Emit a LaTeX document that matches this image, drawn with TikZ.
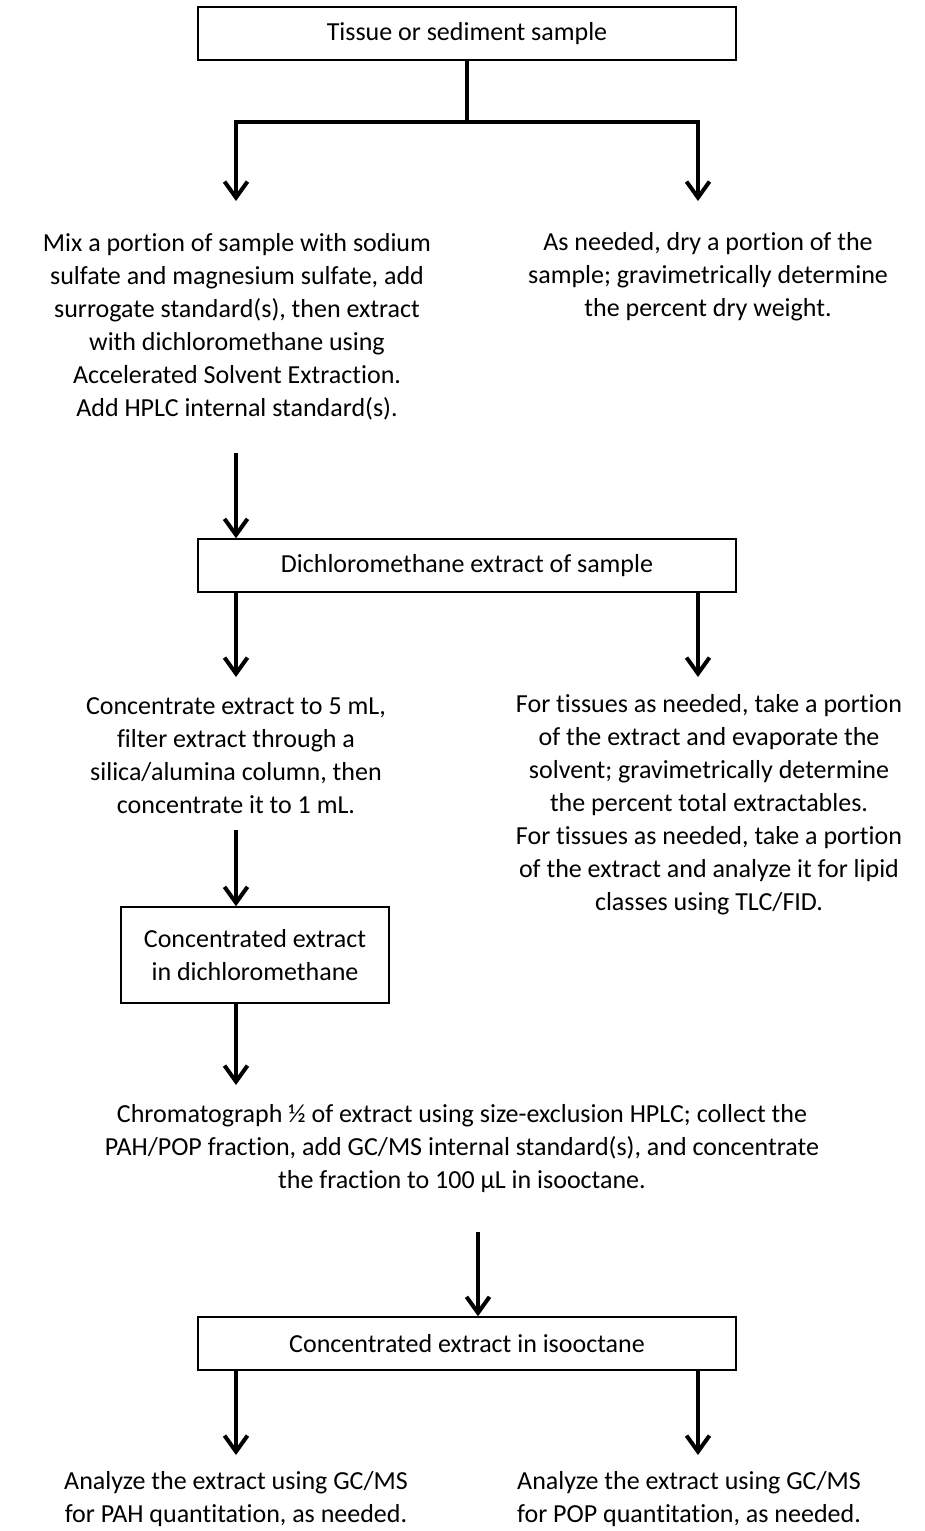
\documentclass[tikz,border=0pt]{standalone}
\usepackage{fontspec}
\setmainfont{Carlito}[Ligatures=NoCommon]
\usetikzlibrary{arrows.meta}
\tikzset{
  every node/.style={font=\fontsize{26}{33}\selectfont, inner sep=0pt},
  box/.style={draw, line width=1.5pt, minimum height=53pt},
  txt/.style={align=center},
  arr/.style={line width=4pt, line join=miter, -{Straight Barb[length=16pt,width=23pt]}},
  ln/.style={line width=4pt, line join=miter},
}
\begin{document}
\begin{tikzpicture}[x=1pt,y=-1pt]
\useasboundingbox (0,0) rectangle (925,1531);
\node[box, minimum width=538pt] (b1) at (467,33.5) {Tissue or sediment sample};
\node[txt] (t1) at (237,326.5) {Mix a portion of sample with sodium\\sulfate and magnesium sulfate, add\\surrogate standard(s), then extract\\with dichloromethane using\\Accelerated Solvent Extraction.\\Add HPLC internal standard(s).};
\node[txt] (t2) at (708,277) {As needed, dry a portion of the\\sample; gravimetrically determine\\the percent dry weight.};
\node[box, minimum width=538pt] (b2) at (467,565.5) {Dichloromethane extract of sample};
\node[txt] (t3) at (236,755.5) {Concentrate extract to 5 mL,\\filter extract through a\\silica/alumina column, then\\concentrate it to 1 mL.};
\node[txt] (t4) at (709,805) {For tissues as needed, take a portion\\of the extract and evaporate the\\solvent; gravimetrically determine\\the percent total extractables.\\For tissues as needed, take a portion\\of the extract and analyze it for lipid\\classes using TLC/FID.};
\node[box, align=center, minimum width=268pt, minimum height=96pt] (b3) at (255,955) {Concentrated extract\\in dichloromethane};
\node[txt] (t5) at (462,1149) {Chromatograph ½ of extract using size-exclusion HPLC; collect the\\PAH/POP fraction, add GC/MS internal standard(s), and concentrate\\the fraction to 100 µL in isooctane.};
\node[box, minimum width=538pt] (b4) at (467,1343.5) {Concentrated extract in isooctane};
\node[txt] (t6) at (236,1499.5) {Analyze the extract using GC/MS\\for PAH quantitation, as needed.};
\node[txt] (t7) at (689,1499.5) {Analyze the extract using GC/MS\\for POP quantitation, as needed.};
% coordinates
\coordinate (j1) at (467,122);
\coordinate (a1l) at (236,201);
\coordinate (a1r) at (698,201);
\coordinate (s2) at (236,453);
\coordinate (a3l) at (236,677);
\coordinate (a3r) at (698,677);
\coordinate (s3) at (236,830);
\coordinate (a4) at (236,1085);
\coordinate (s5) at (478,1232);
\coordinate (a6l) at (236,1455);
\coordinate (a6r) at (698,1455);
% connectors
\draw[ln] (b1.south) -- (j1);
\draw[arr] (j1) -| (a1l);
\draw[arr] (j1) -| (a1r);
\draw[arr] (s2) -- (b2.north -| s2);
\draw[arr] (b2.south -| a3l) -- (a3l);
\draw[arr] (b2.south -| a3r) -- (a3r);
\draw[arr] (s3) -- (b3.north -| s3);
\draw[arr] (b3.south -| a4) -- (a4);
\draw[arr] (s5) -- (b4.north -| s5);
\draw[arr] (b4.south -| a6l) -- (a6l);
\draw[arr] (b4.south -| a6r) -- (a6r);
\end{tikzpicture}
\end{document}
